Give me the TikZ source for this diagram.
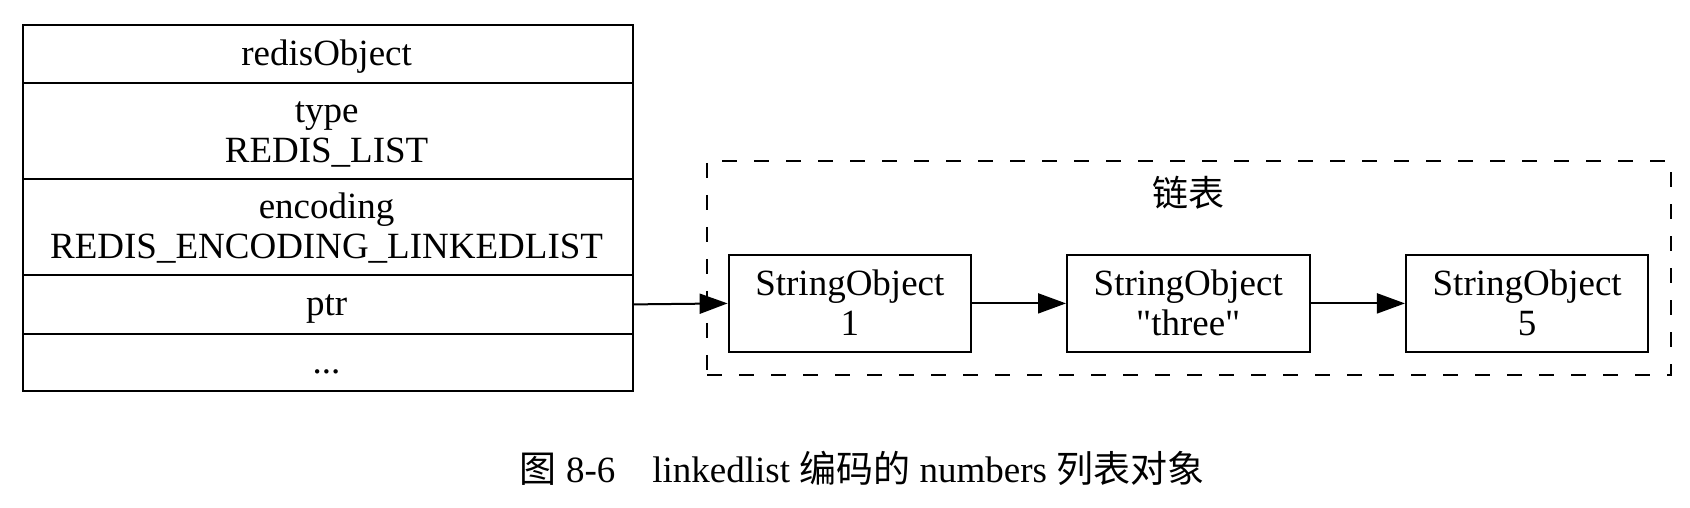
\documentclass[tikz,border=0pt]{standalone}
\usepackage{fontspec}
\setmainfont{Liberation Serif}
\newfontfamily\cjk{Noto Sans CJK SC}
\usetikzlibrary{arrows.meta}
\begin{document}
\begin{tikzpicture}[x=1pt,y=-1pt,
  rowbox/.style={draw,line width=2pt,minimum width=610pt,inner sep=0pt,anchor=north west},
  strbox/.style={draw,line width=2pt,minimum width=242.5pt,minimum height=96.8pt,inner sep=0pt},
  lbl/.style={inner sep=0pt,anchor=base,font=\fontsize{37}{40}\selectfont},
  clusterbox/.style={draw,line width=2pt,dash pattern=on 15pt off 17pt,minimum width=963.6pt,
    minimum height=214.5pt,inner sep=0pt},
  arr/.style={line width=2pt,-{Triangle[length=28pt,width=20pt]}},
]
\useasboundingbox (0,0) rectangle (1690,508);
% record
\node[rowbox,minimum height=58.2pt] (r0) at (21.6,23.7) {};
\node[rowbox,minimum height=95.9pt] (r1) at (21.6,81.9) {};
\node[rowbox,minimum height=96pt] (r2) at (21.6,177.8) {};
\node[rowbox,minimum height=59.2pt] (ptr) at (21.6,273.8) {};
\node[rowbox,minimum height=57.2pt] (r4) at (21.6,333) {};
\node[lbl] (t0) at (326.6,65.3) {redisObject};
\node[lbl] (t1a) at (326.6,122.4) {type};
\node[lbl] (t1b) at (326.6,162.4) {REDIS\_LIST};
\node[lbl] (t2a) at (326.6,218.3) {encoding};
\node[lbl] (t2b) at (326.6,258.3) {REDIS\_ENCODING\_LINKEDLIST};
\node[lbl] (t3) at (326.6,315.9) {ptr};
\node[lbl] (t4) at (326.6,373.8) {...};

% cluster
\node[clusterbox] (cl) at (1188.8,267.85) {};
\node[font=\fontsize{36}{40}\selectfont\cjk,inner sep=0pt] (cltitle) at (1188,193) {链表};

% string objects
\node[strbox] (s1) at (849.85,303.4) {};
\node[strbox] (s2) at (1188.25,303.4) {};
\node[strbox] (s3) at (1527.2,303.4) {};
\node[lbl] (s1a) at (849.85,295.9) {StringObject};
\node[lbl] (s1b) at (849.85,335.9) {1};
\node[lbl] (s2a) at (1188.25,295.9) {StringObject};
\node[lbl] (s2b) at (1188.25,335.9) {\textquotedbl three\textquotedbl};
\node[lbl] (s3a) at (1527.2,295.9) {StringObject};
\node[lbl] (s3b) at (1527.2,335.9) {5};

\draw[arr] (ptr.east) -- (s1.west);
\draw[arr] (s1.east) -- (s2.west);
\draw[arr] (s2.east) -- (s3.west);

\node[font=\fontsize{37}{40}\selectfont,inner sep=0pt,anchor=base] (cap) at (862,482)
  {{\cjk 图} 8-6\hspace{1em}linkedlist {\cjk 编码的} numbers {\cjk 列表对象}};
\end{tikzpicture}
\end{document}
